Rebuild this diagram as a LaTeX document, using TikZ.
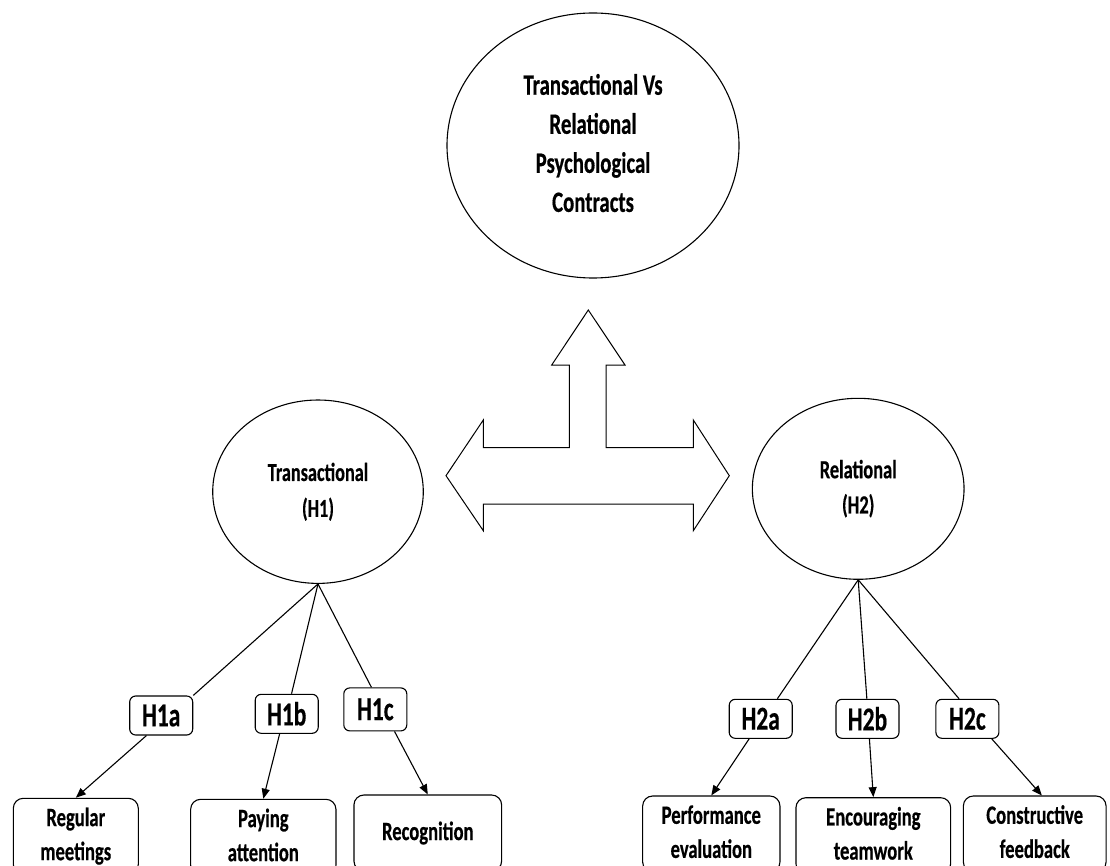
\documentclass[tikz,border=0pt]{standalone}
\usepackage{fontspec}
\setmainfont{Carlito}[BoldFeatures={FakeBold=0.6}]
\usepackage{graphicx}
\usetikzlibrary{shapes.geometric,arrows.meta,calc}
\newcommand{\vstr}[1]{\scalebox{1}[1.42]{#1}}
\newcommand{\txtlines}[1]{\vstr{\begin{tabular}{@{}c@{}}#1\end{tabular}}}
\begin{document}
\begin{tikzpicture}[x=1pt,y=-1pt, line width=1.1pt,
  oval/.style={ellipse, draw, inner sep=0pt},
  hbox/.style={draw, rounded corners=6pt, minimum width=63pt, minimum height=39pt, inner sep=0pt, font=\bfseries\fontsize{23.5}{28}\selectfont},
  leaf/.style={draw, rounded corners=10pt, minimum height=76pt, inner sep=0pt, font=\bfseries\fontsize{18.6}{24}\selectfont},
  tip/.style={-{Triangle[length=10pt,width=8pt]}}]
\useasboundingbox (0,0) rectangle (1110,866);

% ellipses
\node[oval, minimum width=292pt, minimum height=265pt, font=\bfseries\fontsize{20.8}{27.5}\selectfont] (top) at (593,145.5) {\txtlines{Transactional Vs\\Relational\\Psychological\\Contracts}};
\node[oval, minimum width=210.6pt, minimum height=183.4pt, font=\bfseries\fontsize{18.2}{25.3}\selectfont] (h1) at (318,491.7) {\txtlines{Transactional\\(H1)}};
\node[oval, minimum width=211.7pt, minimum height=181pt, font=\bfseries\fontsize{18.4}{24.8}\selectfont] (h2) at (858.2,488.8) {\txtlines{Relational\\(H2)}};

% big three-way arrow
\draw[line width=1pt, line join=miter]
  (588.3,310) -- (625,365) -- (606,365) -- (606,447.7) -- (693.3,447.7) -- (693.3,420)
  -- (729.3,475.7) -- (693.3,530.7) -- (693.3,504) -- (483.3,504) -- (483.3,530.7)
  -- (446,475.7) -- (483.3,420) -- (483.3,447.7) -- (569.3,447.7) -- (569.3,365)
  -- (551.7,365) -- cycle;

% hypothesis boxes
\node[hbox] (h1a) at (161.2,715.5) {\vstr{H1a}};
\node[hbox] (h1b) at (286.7,713.8) {\vstr{H1b}};
\node[hbox, minimum height=43pt] (h1c) at (375.3,709.4) {\vstr{H1c}};
\node[hbox] (h2a) at (760.7,718.8) {\vstr{H2a}};
\node[hbox] (h2b) at (867.5,718.8) {\vstr{H2b}};
\node[hbox] (h2c) at (967.4,718.8) {\vstr{H2c}};

% leaf boxes
\node[leaf, minimum width=125pt] (rm) at (75.8,836.3) {\txtlines{Regular\\meetings}};
\node[leaf, minimum width=145.3pt] (pa) at (263.3,837.3) {\txtlines{Paying\\attention}};
\node[leaf, minimum width=147.7pt] (rec) at (427.8,833) {\vstr{Recognition}};
\node[leaf, minimum width=137.3pt] (pe) at (711.3,834) {\txtlines{Performance\\evaluation}};
\node[leaf, minimum width=154.7pt] (et) at (873.3,835.7) {\txtlines{Encouraging\\teamwork}};
\node[leaf, minimum width=142.7pt] (cf) at (1034.7,834) {\txtlines{Constructive\\feedback}};

% connectors
\draw (h1.south) -- (h1a.north east);
\draw (h1.south) -- (h1b);
\draw (h1.south) -- ($(h1c.north west)!0.44!(h1c.north east)$);
\draw[tip] ($(h1a.south west)!0.27!(h1a.south east)$) -- (rm.north);
\draw[tip] ($(h1b.south west)!0.39!(h1b.south east)$) -- (pa.north);
\draw[tip] ($(h1c.south west)!0.8!(h1c.south east)$) -- (rec.north);
\draw (h2.south) -- ($(h2a.north west)!0.76!(h2a.north east)$);
\draw (h2.south) -- ($(h2b.north west)!0.49!(h2b.north east)$);
\draw (h2.south) -- ($(h2c.north west)!0.37!(h2c.north east)$);
\draw[tip] ($(h2a.south west)!0.32!(h2a.south east)$) -- (pe.north);
\draw[tip] ($(h2b.south west)!0.53!(h2b.south east)$) -- (et.north);
\draw[tip] ($(h2c.south west)!0.88!(h2c.south east)$) -- ($(cf.north west)!0.55!(cf.north east)$);
\end{tikzpicture}
\end{document}
